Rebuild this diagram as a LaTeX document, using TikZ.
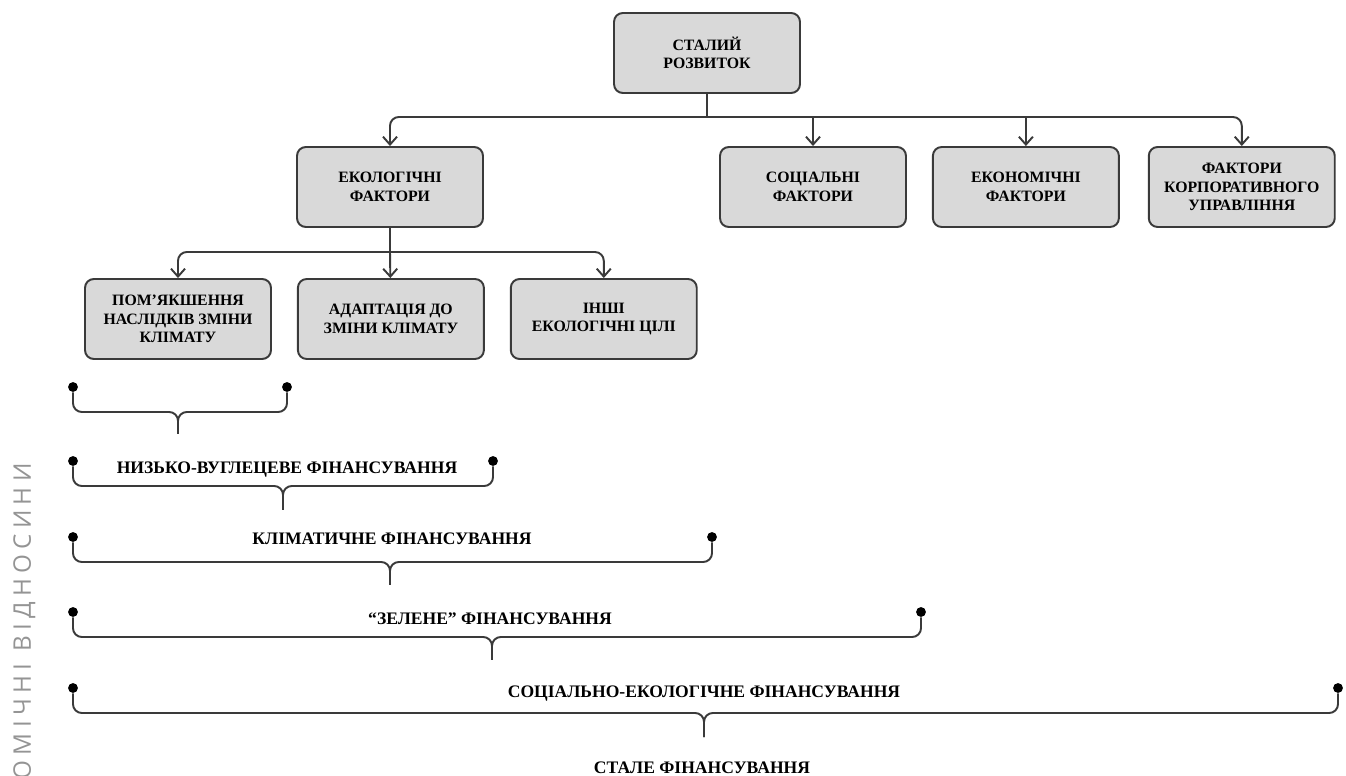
\documentclass[tikz,border=0pt]{standalone}
\usepackage{fontspec}
\setmainfont{Liberation Serif}
\newfontfamily\sidefont[LetterSpace=22]{Open Sans}
\usetikzlibrary{positioning,arrows.meta}
\definecolor{boxgray}{HTML}{D9D9D9}
\definecolor{linegray}{HTML}{3A3A3A}

\begin{document}
\begin{tikzpicture}[x=0.02cm,y=-0.02cm,>={Straight Barb[length=4.5pt,width=8pt]},node distance=0.5cm,
    box/.style={rectangle,rounded corners=5pt,draw=linegray,line width=1.1pt,fill=boxgray,minimum width=3.72cm,minimum height=1.6cm,align=center,inner sep=1pt,font=\fontsize{9}{10.6}\selectfont\bfseries},
    link/.style={draw=linegray,line width=1.1pt,rounded corners=5pt},
    dot/.style={circle,fill=black,inner sep=0pt,minimum size=5.6pt},
    finlabel/.style={inner sep=0pt,anchor=base,font=\fontsize{10}{12}\selectfont\bfseries}]

            \useasboundingbox (0,0) rectangle (1346,776);

            \node[rotate=90,anchor=base east,inner sep=0pt,text=black!42] (side) at (31,463) {\sidefont\fontsize{13.8}{16}\selectfont ОМІЧНІ ВІДНОСИНИ};

            % boxes
            \node[box] (sr) at (707,53) {СТАЛИЙ\\РОЗВИТОК};
            \node[box] (eco) at (390,187) {ЕКОЛОГІЧНІ\\ФАКТОРИ};
            \node[box] (soc) at (813,187) {СОЦІАЛЬНІ\\ФАКТОРИ};
            \node[box] (econ) [right=0.5cm of soc] {ЕКОНОМІЧНІ\\ФАКТОРИ};
            \node[box] (corp) [right=0.56cm of econ] {ФАКТОРИ\\КОРПОРАТИВНОГО\\УПРАВЛІННЯ};
            \node[box] (mit) at (178,319) {ПОМ’ЯКШЕННЯ\\НАСЛІДКІВ ЗМІНИ\\КЛІМАТУ};
            \node[box] (adapt) [right=0.5cm of mit] {АДАПТАЦІЯ ДО\\ЗМІНИ КЛІМАТУ};
            \node[box] (other) [right=0.5cm of adapt] {ІНШІ\\ЕКОЛОГІЧНІ ЦІЛІ};

            \coordinate (bus) at (707,117);
            \coordinate (bus2) at (390,252);

            \draw[link] (sr) -- (bus);
            \draw[link,->] (bus) -| (eco);
            \draw[link,->] (bus) -| (corp);
            \draw[link,->] (soc |- bus) -- (soc);
            \draw[link,->] (econ |- bus) -- (econ);

            \draw[link] (eco) -- (bus2);
            \draw[link,->] (bus2) -| (mit);
            \draw[link,->] (bus2) -| (other);
            \draw[link,->] (bus2) -- (adapt);

            % braces
            \node[dot] (d1l) at (73,387) {};
            \node[dot] (d1r) at (287,387) {};
            \coordinate (m1) at (178,412);
            \coordinate (t1) at (178,434);
            \draw[link] (d1l) |- (m1) -- (t1);
            \draw[link] (d1r) |- (m1) -- (t1);

            \node[dot] (d2l) at (73,461) {};
            \node[dot] (d2r) at (493,461) {};
            \coordinate (m2) at (283,486);
            \coordinate (t2) at (283,510);
            \draw[link] (d2l) |- (m2) -- (t2);
            \draw[link] (d2r) |- (m2) -- (t2);
            \node[finlabel] (low) at (287,474) {НИЗЬКО-ВУГЛЕЦЕВЕ ФІНАНСУВАННЯ};

            \node[dot] (d3l) at (73,537) {};
            \node[dot] (d3r) at (712,537) {};
            \coordinate (m3) at (390,562);
            \coordinate (t3) at (390,585);
            \draw[link] (d3l) |- (m3) -- (t3);
            \draw[link] (d3r) |- (m3) -- (t3);
            \node[finlabel] (clim) at (392,545) {КЛІМАТИЧНЕ ФІНАНСУВАННЯ};

            \node[dot] (d4l) at (73,612) {};
            \node[dot] (d4r) at (921,612) {};
            \coordinate (m4) at (492,637);
            \coordinate (t4) at (492,660);
            \draw[link] (d4l) |- (m4) -- (t4);
            \draw[link] (d4r) |- (m4) -- (t4);
            \node[finlabel] (green) at (490,624) {“ЗЕЛЕНЕ” ФІНАНСУВАННЯ};

            \node[dot] (d5l) at (73,688) {};
            \node[dot] (d5r) at (1338,688) {};
            \coordinate (m5) at (704,713);
            \coordinate (t5) at (704,737);
            \draw[link] (d5l) |- (m5) -- (t5);
            \draw[link] (d5r) |- (m5) -- (t5);
            \node[finlabel] (social) at (704,698) {СОЦІАЛЬНО-ЕКОЛОГІЧНЕ ФІНАНСУВАННЯ};

            \node[finlabel] (sust) at (702,773) {СТАЛЕ ФІНАНСУВАННЯ};

        \end{tikzpicture}
\end{document}
